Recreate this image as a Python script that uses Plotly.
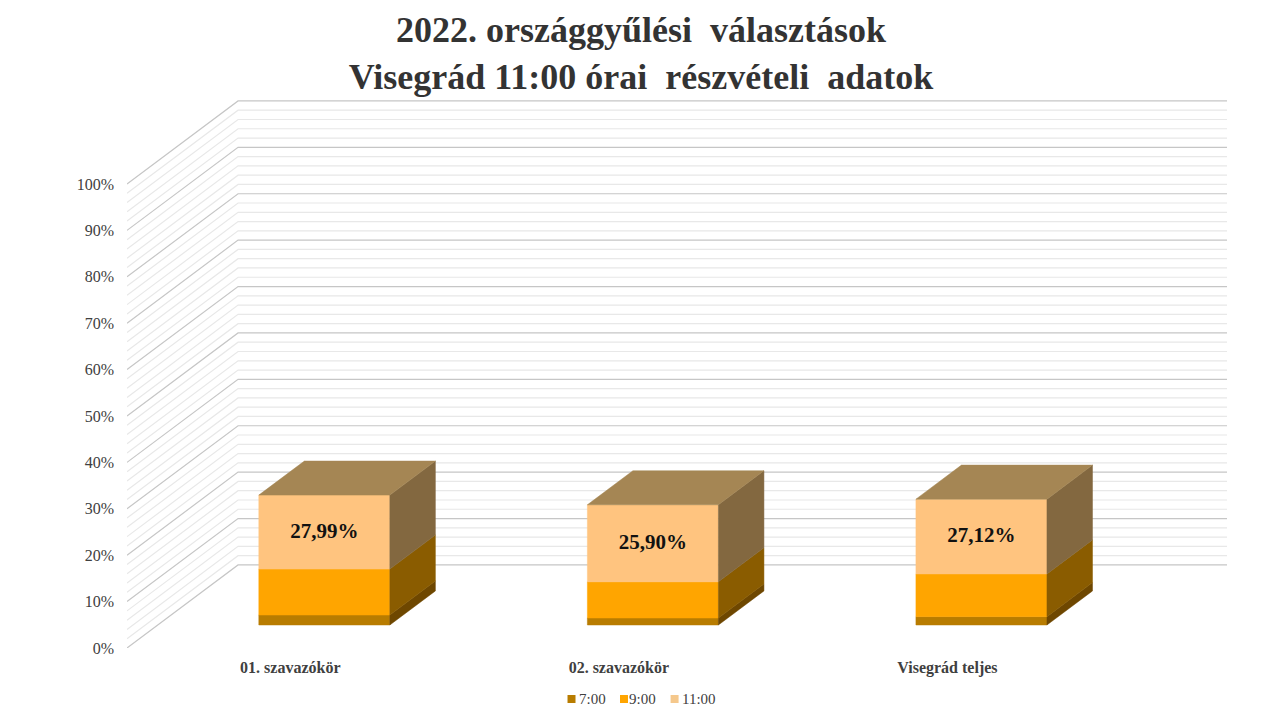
# -*- coding: utf-8 -*-
import plotly.graph_objects as go

categories = ["01. szavazókör", "02. szavazókör", "Visegrád teljes"]
hours = ["7:00", "9:00", "11:00"]

# cumulative turnout in percent
turnout_7 = [2.15, 1.5, 1.8]
turnout_9 = [12.05, 9.3, 11.0]
turnout_11 = [27.99, 25.90, 27.12]

levels = [turnout_7, turnout_9, turnout_11]

front_colors = ["#B87C00", "#FFA500", "#FFC47F"]
side_colors = ["#6E4700", "#8A5C00", "#836840"]
top_color = "#A58654"
legend_colors = ["#B87C00", "#FFA500", "#F5C88C"]

major_ticks = list(range(0, 101, 10))
minor_ticks = list(range(0, 101, 2))

# oblique projection: depth 0 is the front plane, depth 1 the back wall
DEPTH_X = 0.338
DEPTH_Y = 17.9
BAR_FRONT = 0.277
BAR_BACK = 0.687
BAR_HALF = 0.1994
X_MIN = -0.507
X_MAX = 2.841
LABEL_SHIFT = -0.01
VALUE_LABEL_DROP = 0.04

# legend row, in plot-area fractions
legend_swatch_x = [0.4041, 0.4518, 0.4978]
legend_text_x = [0.4091, 0.4549, 0.5028]
LEGEND_Y = -0.0931
SWATCH_PX = 8


def project(x, depth, v):
    return x + depth * DEPTH_X, v + depth * DEPTH_Y


def grid_xy(ticks):
    xs, ys = [], []
    for t in ticks:
        for x, d in [(X_MIN, 0), (X_MIN, 1)]:
            px, py = project(x, d, t)
            xs.append(px)
            ys.append(py)
        xs.append(X_MAX)
        ys.append(t + DEPTH_Y)
        xs.append(None)
        ys.append(None)
    return xs, ys


def polygons(corner_lists):
    xs, ys = [], []
    for corners in corner_lists:
        for c in corners + corners[:1]:
            px, py = project(*c)
            xs.append(px)
            ys.append(py)
        xs.append(None)
        ys.append(None)
    return xs, ys


def add_poly(fig, corner_lists, color):
    xs, ys = polygons(corner_lists)
    fig.add_trace(go.Scatter(x=xs, y=ys, mode="lines", fill="toself", fillcolor=color,
                             line=dict(color=color, width=0.5), hoverinfo="skip", showlegend=False))


fig = go.Figure()

minor_only = [t for t in minor_ticks if t not in major_ticks]
gx, gy = grid_xy(minor_only)
fig.add_trace(go.Scatter(x=gx, y=gy, mode="lines", line=dict(color="#E8E8E8", width=1.2),
                         hoverinfo="skip", showlegend=False))
gx, gy = grid_xy(major_ticks)
fig.add_trace(go.Scatter(x=gx, y=gy, mode="lines", line=dict(color="#C6C6C6", width=1.2),
                         hoverinfo="skip", showlegend=False))

for s in range(3):
    front, side = [], []
    for i in range(len(categories)):
        low = levels[s - 1][i] if s > 0 else 0
        high = levels[s][i]
        left, right = i - BAR_HALF, i + BAR_HALF
        front.append([(left, BAR_FRONT, low), (right, BAR_FRONT, low),
                      (right, BAR_FRONT, high), (left, BAR_FRONT, high)])
        side.append([(right, BAR_FRONT, low), (right, BAR_BACK, low),
                     (right, BAR_BACK, high), (right, BAR_FRONT, high)])
    add_poly(fig, front, front_colors[s])
    add_poly(fig, side, side_colors[s])

tops = []
for i in range(len(categories)):
    left, right = i - BAR_HALF, i + BAR_HALF
    high = turnout_11[i]
    tops.append([(left, BAR_FRONT, high), (right, BAR_FRONT, high),
                 (right, BAR_BACK, high), (left, BAR_BACK, high)])
add_poly(fig, tops, top_color)

# value labels in the middle of the top segment's front face
label_pos = [project(i, BAR_FRONT, (turnout_9[i] + turnout_11[i]) / 2) for i in range(len(categories))]
fig.add_trace(go.Scatter(
    x=[p[0] for p in label_pos],
    y=[p[1] - VALUE_LABEL_DROP for p in label_pos],
    mode="text",
    text=[f"{v:.2f}%".replace(".", ",") for v in turnout_11],
    textposition="middle center",
    textfont=dict(family="Liberation Serif", size=21, color="#111111", weight="bold"),
    hoverinfo="skip",
    showlegend=False,
))

# the native legend keeps a wider gap than the original, so the row is built by hand
for s in range(3):
    fig.add_shape(type="rect", xref="paper", yref="paper",
                  xsizemode="pixel", ysizemode="pixel",
                  xanchor=legend_swatch_x[s], yanchor=LEGEND_Y,
                  x0=-SWATCH_PX / 2, x1=SWATCH_PX / 2, y0=-SWATCH_PX / 2, y1=SWATCH_PX / 2,
                  fillcolor=legend_colors[s], line_width=0)
    fig.add_annotation(x=legend_text_x[s], y=LEGEND_Y, xref="paper", yref="paper",
                       text=hours[s], showarrow=False, xanchor="left", yanchor="middle",
                       font=dict(size=15, color="#404040"))

# the page body has an 8px margin, so the figure is 8px smaller on each side
fig.update_layout(
    width=1272,
    height=712,
    autosize=False,
    showlegend=False,
    paper_bgcolor="white",
    plot_bgcolor="white",
    margin=dict(l=119, r=53, t=92, b=72, autoexpand=False),
    font=dict(family="Liberation Serif", color="#404040"),
    title=dict(
        text="<b>2022. országgyűlési  választások<br>Visegrád 11:00 órai  részvételi  adatok</b>",
        x=0.4976,
        xanchor="center",
        y=0.952,
        yanchor="top",
        font=dict(family="Liberation Serif", size=36, color="#333333"),
    ),
    xaxis=dict(
        range=[X_MIN, X_MAX],
        tickmode="array",
        tickvals=[i + LABEL_SHIFT for i in range(len(categories))],
        ticktext=[f"<b>{c}</b>" for c in categories],
        tickfont=dict(size=16, color="#404040"),
        showgrid=False,
        zeroline=False,
        showline=False,
        ticks="",
        ticklabelstandoff=8,
        fixedrange=True,
    ),
    yaxis=dict(
        range=[0, 118.1],
        tickmode="array",
        tickvals=major_ticks,
        ticktext=[f"{t}%" for t in major_ticks],
        tickfont=dict(size=16, color="#404040"),
        showgrid=False,
        zeroline=False,
        showline=False,
        ticks="",
        ticklabelstandoff=12,
        fixedrange=True,
    ),
)

fig.write_html("out.html")
